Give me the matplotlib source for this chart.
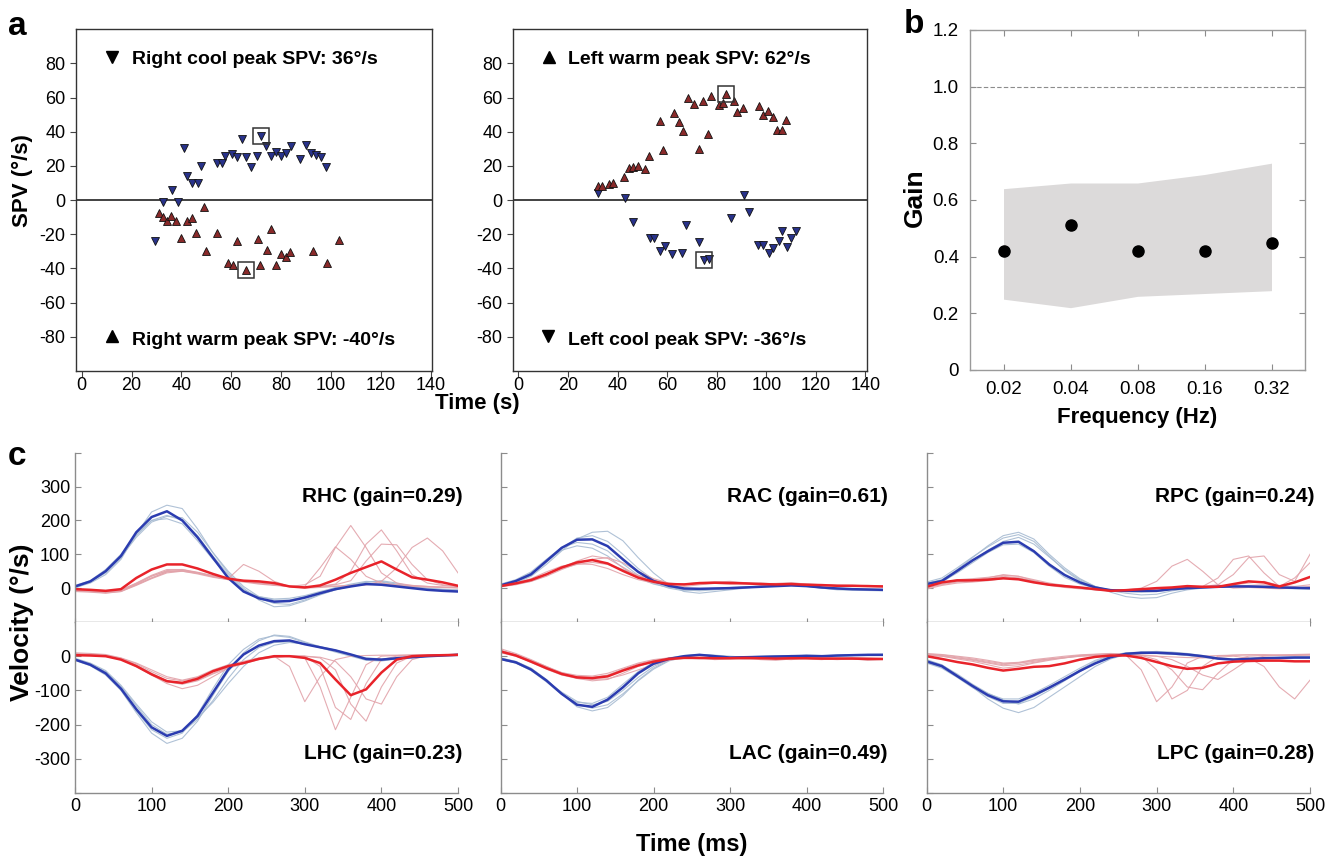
import numpy as np
import matplotlib.pyplot as plt

plt.rcParams['font.family'] = ['Liberation Sans', 'DejaVu Sans']
plt.rcParams['axes.unicode_minus'] = False

W, H = 1336, 860

# ---------------- panel a: slow phase velocity vs time ----------------
# right ear (left plot)
rcool_t = [41.1, 64.4, 72.1, 74.0, 36.4, 32.7, 38.8, 42.1, 44.1, 46.5, 47.9, 54.3, 56.3, 57.5,
           60.1, 62.1, 65.9, 67.9, 70.3, 75.9, 78.0, 79.9, 82.0, 83.9, 87.6, 89.9, 92.0, 94.1,
           96.0, 97.9, 29.3]
rcool_v = [30.8, 35.7, 37.5, 31.8, 5.9, -1.2, -1.2, 14.2, 10.1, 10.1, 20.1, 21.5, 22.0, 26.1,
           27.3, 25.0, 25.0, 19.5, 26.1, 26.1, 28.3, 26.1, 27.7, 31.6, 24.2, 32.2, 27.7, 26.5,
           25.0, 19.5, -24.2]
rwarm_t = [31.1, 32.5, 34.4, 36.0, 37.9, 42.3, 44.3, 49.1, 40.0, 45.7, 50.0, 54.4, 58.7, 60.7,
           62.1, 66.0, 70.9, 71.7, 76.0, 74.3, 78.0, 80.0, 81.9, 83.5, 92.7, 98.4, 103.2]
rwarm_v = [-7.4, -10.1, -12.3, -9.0, -12.1, -12.1, -10.7, -4.1, -22.2, -19.3, -30.0, -19.3,
           -36.5, -37.9, -24.2, -40.6, -22.8, -38.2, -17.0, -28.9, -37.7, -31.6, -33.2, -30.2,
           -29.5, -36.9, -23.6]
# left ear (right plot)
lwarm_t = [32.2, 33.9, 36.4, 38.2, 42.4, 44.5, 46.4, 48.4, 51.1, 52.7, 58.5, 57.2, 62.8, 64.6,
           66.4, 68.6, 70.9, 72.8, 74.6, 76.6, 77.8, 80.9, 82.4, 83.9, 87.0, 88.2, 90.5, 97.2,
           98.8, 100.8, 102.6, 104.5, 106.5, 108.0]
lwarm_v = [8.4, 8.4, 9.4, 9.8, 13.3, 18.7, 19.3, 19.9, 18.5, 26.0, 29.3, 46.2, 50.9, 45.5,
           40.2, 59.5, 56.2, 29.9, 58.1, 38.6, 61.1, 55.6, 56.8, 62.0, 58.0, 51.7, 54.0, 55.2,
           50.0, 51.9, 48.8, 40.8, 40.8, 46.8]
lcool_t = [32.2, 43.0, 46.4, 53.2, 54.6, 57.0, 59.1, 61.9, 65.8, 67.8, 72.7, 74.7, 77.0, 85.9,
           90.9, 93.2, 96.6, 98.6, 101.0, 102.7, 105.0, 106.5, 108.2, 110.1, 111.9]
lcool_v = [4.3, 1.4, -12.9, -22.2, -21.9, -30.0, -27.1, -31.4, -31.0, -14.4, -24.6, -35.1,
           -34.5, -10.5, 2.9, -7.2, -26.1, -26.1, -30.8, -28.1, -24.2, -18.0, -27.3, -22.0, -18.0]
# peak values marked with a box
rcool_peak = (72.1, 37.5)
rwarm_peak = (66.0, -40.6)
lwarm_peak = (83.9, 62.0)
lcool_peak = (74.7, -35.1)

# ---------------- panel b: gain vs frequency ----------------
freq_labels = ['0.02', '0.04', '0.08', '0.16', '0.32']
gain_mean = [0.42, 0.51, 0.42, 0.42, 0.45]
gain_low = [0.25, 0.22, 0.26, 0.27, 0.28]
gain_high = [0.64, 0.66, 0.66, 0.69, 0.73]

# ---------------- panel c: head impulse velocity traces ----------------
t_ms = [0, 20, 40, 60, 80, 100, 120, 140, 160, 180, 200, 220, 240,
        260, 280, 300, 320, 340, 360, 380, 400, 420, 440, 460, 480, 500]

rhc_head = [5, 20, 50, 95, 165, 210, 227, 200, 150, 90, 30, -10, -30, -40, -38, -28, -15, -3, 5, 12, 10, 5, 0, -5, -8, -10]
rhc_eye = [-3, -5, -8, -3, 30, 55, 70, 70, 58, 42, 28, 22, 20, 15, 5, 2, 8, 25, 45, 62, 79, 55, 32, 25, 17, 7]
rhc_head_trials = [
    [2, 15, 40, 85, 160, 225, 245, 235, 175, 105, 45, 0, -35, -55, -52, -38, -20, -5, 8, 18, 20, 12, 5, -2, -5, -8],
    [8, 22, 55, 100, 160, 200, 205, 190, 140, 85, 35, -5, -25, -32, -30, -22, -10, 0, 10, 15, 12, 5, 0, -4, -6, -8],
    [0, 18, 45, 90, 155, 200, 215, 200, 155, 95, 40, -5, -30, -45, -48, -35, -18, -5, 5, 18, 22, 15, 5, 0, -3, -5],
    [3, 20, 48, 92, 150, 195, 212, 208, 165, 105, 50, 5, -25, -35, -35, -25, -12, 2, 12, 20, 18, 10, 2, -3, -5, -6],
]
rhc_eye_trials = [
    [-8, -10, -14, -10, 10, 30, 48, 52, 45, 35, 28, 70, 50, 20, 5, 0, 2, 5, 8, 10, 12, 8, 5, 3, 2, 0],
    [-5, -8, -12, -8, 12, 35, 52, 55, 45, 35, 25, 20, 15, 10, 5, 5, 60, 122, 85, 35, 15, 10, 8, 5, 3, 2],
    [-10, -12, -15, -10, 8, 28, 45, 50, 42, 32, 25, 18, 12, 8, 5, 10, 35, 120, 185, 120, 45, 15, 8, 5, 3, 2],
    [-6, -9, -12, -6, 15, 38, 55, 55, 47, 37, 28, 20, 15, 10, 5, 3, 5, 12, 50, 130, 172, 110, 40, 15, 8, 5],
    [-8, -10, -13, -8, 10, 30, 48, 50, 44, 34, 26, 20, 15, 10, 5, 3, 5, 10, 22, 80, 130, 128, 70, 25, 10, 5],
    [-4, -7, -10, -5, 14, 36, 50, 52, 46, 36, 27, 20, 14, 10, 6, 4, 4, 6, 8, 10, 20, 60, 120, 148, 110, 45],
]

lhc_head = [-10, -25, -50, -95, -155, -208, -233, -218, -175, -107, -39, 5, 31, 44, 46, 35, 26, 17, 5, -8, -10, -6, -3, 0, 2, 4]
lhc_eye = [3, 2, 0, -10, -29, -53, -73, -78, -66, -44, -29, -20, -8, 0, 0, -5, -20, -68, -114, -97, -48, -10, 0, 2, 3, 4]
lhc_head_trials = [
    [-12, -28, -55, -100, -165, -225, -255, -240, -190, -115, -45, 10, 45, 62, 58, 42, 28, 15, 2, -10, -12, -8, -4, -1, 2, 6],
    [-8, -22, -45, -88, -145, -200, -228, -222, -185, -130, -65, -10, 25, 40, 42, 35, 25, 15, 2, -8, -10, -6, -3, 0, 3, 5],
    [-10, -26, -52, -98, -160, -215, -240, -225, -170, -95, -25, 20, 50, 60, 55, 40, 25, 12, 0, -12, -14, -8, -4, 0, 3, 6],
    [-6, -20, -42, -85, -140, -192, -222, -218, -180, -135, -80, -30, 10, 32, 40, 36, 28, 18, 5, -5, -8, -6, -3, 0, 2, 5],
]
lhc_eye_trials = [
    [10, 8, 5, -5, -20, -40, -60, -70, -60, -40, -25, -15, -5, 0, -30, -133, -60, -10, 0, 2, 3, 3, 4, 4, 4, 5],
    [5, 4, 2, -8, -28, -55, -80, -95, -85, -60, -35, -20, -8, -2, 0, -5, -90, -215, -120, -25, 0, 2, 3, 4, 4, 5],
    [8, 6, 3, -6, -22, -45, -65, -72, -62, -45, -30, -18, -6, 0, 2, 0, -30, -150, -185, -80, -10, 0, 2, 3, 4, 5],
    [6, 5, 2, -7, -25, -50, -72, -80, -70, -50, -32, -20, -8, -2, 0, 0, -5, -40, -140, -190, -90, -20, 0, 2, 4, 5],
    [4, 3, 0, -10, -30, -55, -75, -82, -72, -52, -35, -22, -10, -3, 0, 0, -3, -15, -60, -125, -140, -60, -10, 2, 4, 5],
]

rac_head = [8, 21, 41, 80, 119, 143, 144, 124, 85, 48, 21, 7, -1, -2, -1, 0, 2, 4, 6, 8, 6, 2, -1, -3, -4, -5]
rac_eye = [6, 14, 24, 41, 61, 76, 83, 73, 51, 31, 19, 12, 11, 15, 16, 15, 14, 12, 11, 12, 10, 9, 7, 7, 6, 5]
rac_head_trials = [
    [5, 15, 35, 70, 110, 145, 165, 168, 140, 90, 45, 10, -10, -15, -10, -5, 0, 5, 8, 10, 6, 0, -5, -6, -7, -8],
    [10, 22, 45, 80, 112, 125, 118, 95, 60, 30, 12, 2, -3, -3, 0, 2, 4, 5, 7, 9, 5, 0, -3, -5, -5, -6],
    [6, 18, 38, 76, 118, 148, 155, 138, 100, 58, 25, 5, -5, -8, -5, -2, 2, 5, 8, 12, 8, 2, -2, -4, -5, -6],
    [12, 25, 48, 85, 120, 135, 130, 110, 72, 38, 15, 0, -8, -6, -2, 0, 3, 5, 7, 9, 7, 3, 0, -2, -3, -4],
]
rac_eye_trials = [
    [5, 12, 20, 35, 55, 72, 85, 90, 75, 50, 28, 15, 10, 12, 15, 18, 15, 12, 10, 14, 12, 10, 8, 8, 7, 6],
    [8, 15, 28, 48, 65, 72, 70, 58, 40, 25, 15, 10, 12, 16, 18, 16, 12, 10, 12, 15, 12, 10, 9, 8, 7, 6],
    [4, 10, 20, 38, 60, 80, 95, 88, 62, 35, 18, 8, 5, 10, 14, 12, 14, 16, 12, 10, 8, 10, 8, 6, 5, 4],
    [6, 14, 22, 40, 58, 70, 76, 70, 55, 38, 25, 15, 12, 14, 18, 20, 16, 13, 14, 16, 12, 8, 6, 7, 8, 7],
]

lac_head = [-8, -18, -39, -71, -110, -142, -148, -127, -91, -50, -22, -8, 0, 4, 0, -4, -3, -2, -1, 0, 1, 0, 2, 3, 4, 4]
lac_eye = [14, 2, -16, -35, -52, -62, -64, -59, -42, -27, -16, -8, -5, -5, -6, -6, -5, -6, -7, -6, -6, -7, -7, -7, -8, -8]
lac_head_trials = [
    [-5, -15, -35, -68, -110, -148, -160, -150, -115, -70, -35, -12, 0, 3, 0, -3, -2, 0, 1, 2, 0, 1, 3, 4, 3, 2],
    [-10, -20, -42, -75, -112, -135, -138, -120, -82, -45, -18, -5, 2, 5, 2, -2, -4, -3, 0, 2, 2, 0, 1, 2, 4, 5],
    [-6, -16, -36, -70, -108, -140, -152, -142, -110, -72, -38, -14, -2, 4, 1, -2, -1, -3, -2, 0, 3, 2, 0, 2, 5, 6],
    [-9, -20, -40, -72, -105, -132, -142, -132, -100, -62, -30, -10, 0, 5, 3, 0, -3, -1, 1, 2, 1, -1, 2, 3, 3, 4],
]
lac_eye_trials = [
    [22, 8, -10, -30, -50, -65, -72, -68, -50, -30, -15, -5, -2, -5, -10, -8, -5, -10, -12, -8, -5, -8, -10, -8, -12, -10],
    [10, 0, -15, -32, -48, -56, -58, -50, -35, -20, -10, -5, -3, -4, -2, -4, -8, -6, -4, -6, -8, -10, -6, -4, -6, -8],
    [18, 5, -12, -30, -48, -60, -62, -55, -38, -22, -12, -6, -5, -8, -6, -3, -2, -4, -8, -10, -6, -3, -5, -8, -10, -9],
    [12, 2, -18, -38, -55, -65, -68, -66, -55, -40, -25, -12, -6, -4, -5, -7, -9, -7, -5, -4, -6, -9, -8, -6, -5, -7],
]

rpc_head = [12, 21, 51, 82, 109, 134, 137, 109, 70, 39, 17, 2, -6, -8, -8, -8, -3, 0, 2, 4, 5, 5, 4, 2, 1, 0]
rpc_eye = [4, 17, 23, 23, 25, 29, 26, 17, 10, 6, 2, -3, -8, -6, -3, 0, 2, 6, 4, 4, 12, 20, 17, 5, 17, 33]
rpc_head_trials = [
    [15, 25, 55, 90, 125, 155, 165, 145, 100, 60, 28, 5, -12, -25, -30, -28, -15, -5, 0, 3, 5, 4, 2, 0, -2, -3],
    [8, 18, 45, 75, 105, 128, 130, 105, 65, 32, 12, 0, -5, -8, -10, -8, -3, 0, 2, 4, 5, 4, 3, 2, 1, 0],
    [18, 30, 60, 92, 122, 148, 158, 138, 95, 52, 22, 2, -8, -15, -20, -18, -8, -2, 2, 5, 6, 5, 3, 1, 0, -1],
    [10, 22, 48, 80, 112, 138, 150, 130, 92, 55, 25, 5, -6, -10, -12, -10, -4, 0, 3, 6, 6, 4, 2, 1, -1, -2],
]
rpc_eye_trials = [
    [0, 12, 20, 22, 28, 35, 30, 18, 8, 2, -2, -5, -8, -5, 0, 20, 65, 85, 50, 10, 0, 2, 0, -2, 0, 2],
    [5, 15, 25, 28, 32, 38, 35, 22, 12, 5, 0, -5, -8, -6, -3, -2, 0, 2, 5, 30, 85, 95, 45, 5, 0, 5],
    [2, 10, 18, 22, 25, 30, 28, 20, 10, 4, 0, -3, -6, -5, -3, 0, 2, 3, 5, 10, 40, 90, 95, 40, 20, 100],
    [6, 16, 20, 25, 30, 40, 35, 25, 15, 8, 2, -4, -8, -10, -6, -2, 0, 2, 4, 4, 6, 8, 10, 5, 30, 75],
    [-3, 8, 15, 18, 22, 28, 30, 22, 12, 5, 0, -4, -6, -6, -4, -2, 0, 2, 4, 6, 10, 15, 20, 8, 5, 10],
]

lpc_head = [-15, -29, -58, -87, -114, -132, -133, -114, -92, -68, -43, -21, -3, 7, 10, 10, 8, 5, 0, -7, -10, -8, -6, -5, -4, -4]
lpc_eye = [0, -8, -17, -24, -34, -42, -37, -31, -29, -21, -10, -2, 2, 2, -5, -17, -29, -37, -34, -21, -16, -14, -13, -13, -15, -15]
lpc_head_trials = [
    [-10, -25, -55, -90, -125, -152, -165, -150, -120, -90, -60, -30, -8, 5, 12, 14, 12, 8, 2, -5, -8, -6, -4, -3, -2, -2],
    [-18, -32, -60, -88, -110, -125, -125, -108, -85, -60, -35, -12, 2, 10, 12, 10, 6, 2, -3, -8, -10, -8, -6, -5, -5, -5],
    [-12, -26, -52, -82, -108, -128, -140, -125, -100, -72, -45, -20, -2, 8, 10, 12, 10, 6, 1, -6, -9, -7, -5, -4, -3, -3],
    [-20, -35, -62, -92, -118, -138, -138, -118, -95, -70, -40, -15, 0, 6, 8, 8, 6, 3, -2, -6, -10, -9, -7, -5, -4, -3],
]
lpc_eye_trials = [
    [5, 2, -5, -10, -18, -25, -20, -12, -8, -5, 0, 2, 5, 3, -40, -133, -90, -20, 0, 2, 3, 4, 4, 3, 2, 3],
    [8, 5, 0, -5, -12, -20, -18, -10, -5, 0, 4, 6, 8, 6, 0, -40, -125, -100, -30, 0, 3, 4, 4, 3, 3, 4],
    [3, 0, -8, -15, -25, -35, -30, -20, -12, -5, 2, 4, 6, 5, 2, -10, -40, -90, -98, -50, -10, 0, 2, 3, 4, 5],
    [6, 4, -2, -8, -15, -22, -20, -15, -8, -3, 2, 5, 7, 6, 4, 0, -10, -30, -55, -68, -40, -10, 0, 3, 5, 6],
    [2, 0, -5, -12, -20, -28, -25, -18, -10, -4, 0, 3, 5, 4, 2, 0, -2, -4, -5, -3, 0, -5, -30, -90, -125, -70],
]

canal_labels = [('RHC (gain=0.29)', 'LHC (gain=0.23)'),
                ('RAC (gain=0.61)', 'LAC (gain=0.49)'),
                ('RPC (gain=0.24)', 'LPC (gain=0.28)')]


def rect(x0, y0, x1, y1):
    # pixel box (top-left origin) -> figure fraction
    return [x0 / W, 1 - y1 / H, (x1 - x0) / W, (y1 - y0) / H]


fig = plt.figure(figsize=(W / 100, H / 100), dpi=100)

# ---- panel a ----
cool_kw = dict(ls='none', marker='v', ms=5.5, mfc='#28328a', mec='#111111', mew=0.6)
warm_kw = dict(ls='none', marker='^', ms=5.5, mfc='#8a2a2a', mec='#111111', mew=0.6)
box_kw = dict(ls='none', marker='s', ms=12, mfc='none', mec='#333333', mew=1.1)

a_specs = [
    (rect(76, 29.3, 432, 371), rcool_t, rcool_v, rwarm_t, rwarm_v, rcool_peak, rwarm_peak,
     ('v', 'Right cool peak SPV: 36°/s'), ('^', 'Right warm peak SPV: -40°/s')),
    (rect(512.7, 29.3, 866.7, 371), lcool_t, lcool_v, lwarm_t, lwarm_v, lcool_peak, lwarm_peak,
     ('^', 'Left warm peak SPV: 62°/s'), ('v', 'Left cool peak SPV: -36°/s')),
]
for r, ct, cv, wt, wv, cpk, wpk, top, bot in a_specs:
    ax = fig.add_axes(r)
    ax.axhline(0, color='#333333', lw=1.3, zorder=1)
    ax.plot(ct, cv, **cool_kw)
    ax.plot(wt, wv, **warm_kw)
    ax.plot([cpk[0], wpk[0]], [cpk[1], wpk[1]], **box_kw)
    ax.plot(12.3, 84, ls='none', marker=top[0], ms=8, color='black')
    ax.text(20, 79.5, top[1], fontsize=14, fontweight='bold', va='baseline')
    ax.plot(12.0, -79.5, ls='none', marker=bot[0], ms=8, color='black')
    ax.text(20, -84.5, bot[1], fontsize=14, fontweight='bold', va='baseline')
    ax.set_xlim(-2.3, 140.5)
    ax.set_ylim(-100, 100)
    ax.set_xticks(range(0, 141, 20))
    ax.set_yticks(range(-80, 81, 20))
    ax.tick_params(direction='out', length=4, labelsize=13, color='#444444')
    ax.tick_params(axis='x', pad=0.5)
    for s in ax.spines.values():
        s.set_color('#333333')
        s.set_linewidth(1.0)

fig.text(22 / W, 1 - 181 / H, 'SPV (°/s)', rotation=90, ha='center', va='center',
         fontsize=16, fontweight='bold')
fig.text(477 / W, 1 - 403 / H, 'Time (s)', ha='center', va='center',
         fontsize=16, fontweight='bold')

# ---- panel b ----
axb = fig.add_axes(rect(970, 30, 1305, 370))
xpos = np.arange(len(freq_labels))
axb.fill_between(xpos, gain_low, gain_high, color='#dcdada', lw=0)
axb.axhline(1.0, color='#8c8c8c', lw=0.8, ls=(0, (4, 2)))
axb.plot(xpos, gain_mean, ls='none', marker='o', ms=8, color='black')
axb.set_xlim(-0.5, 4.5)
axb.set_ylim(0, 1.2)
axb.set_xticks(xpos)
axb.set_xticklabels(freq_labels)
axb.set_yticks([0, 0.2, 0.4, 0.6, 0.8, 1.0, 1.2])
axb.set_yticklabels(['0', '0.2', '0.4', '0.6', '0.8', '1.0', '1.2'])
axb.tick_params(direction='in', length=4, labelsize=13.5, color='#8c8c8c',
                top=True, right=True, pad=8)
for s in axb.spines.values():
    s.set_color('#9a9a9a')
    s.set_linewidth(1.0)
fig.text(915 / W, 1 - 198 / H, 'Gain', rotation=90, ha='center', va='center',
         fontsize=19, fontweight='bold')
fig.text(1137 / W, 1 - 418 / H, 'Frequency (Hz)', ha='center', va='center',
         fontsize=16, fontweight='bold')

# ---- panel c ----
head_c, eye_c = '#2b3cb0', '#e8232a'
head_light, eye_light = '#a7bbd2', '#e2a3aa'
cols = [(75, 458), (500.5, 883), (926.5, 1310)]
canal_data = [
    ((rhc_head, rhc_eye, rhc_head_trials, rhc_eye_trials),
     (lhc_head, lhc_eye, lhc_head_trials, lhc_eye_trials)),
    ((rac_head, rac_eye, rac_head_trials, rac_eye_trials),
     (lac_head, lac_eye, lac_head_trials, lac_eye_trials)),
    ((rpc_head, rpc_eye, rpc_head_trials, rpc_eye_trials),
     (lpc_head, lpc_eye, lpc_head_trials, lpc_eye_trials)),
]
for ci, (x0, x1) in enumerate(cols):
    top_ax = fig.add_axes(rect(x0, 452.7, x1, 622))
    bot_ax = fig.add_axes(rect(x0, 622, x1, 793))
    for ax, (head, eye, head_tr, eye_tr), lab, ylim, yb, is_top in [
            (top_ax, canal_data[ci][0], canal_labels[ci][0], (-100, 400), 0.71, True),
            (bot_ax, canal_data[ci][1], canal_labels[ci][1], (-400, 100), 0.20, False)]:
        for tr in head_tr:
            ax.plot(t_ms, tr, color=head_light, lw=0.8, alpha=0.9)
        for tr in eye_tr:
            ax.plot(t_ms, tr, color=eye_light, lw=0.8, alpha=0.9)
        ax.plot(t_ms, head, color=head_c, lw=1.8)
        ax.plot(t_ms, eye, color=eye_c, lw=1.8)
        ax.text(1.012, yb, lab, transform=ax.transAxes, ha='right', va='baseline',
                fontsize=15, fontweight='bold')
        ax.set_xlim(0, 500)
        ax.set_ylim(*ylim)
        ax.set_xticks([0, 100, 200, 300, 400, 500])
        ax.spines['right'].set_visible(False)
        ax.spines['top'].set_visible(False)
        for s in ax.spines.values():
            s.set_color('#8c8c8c')
            s.set_linewidth(1.0)
        if is_top:
            ax.set_yticks([0, 100, 200, 300, 400])
            ax.set_yticklabels(['0', '100', '200', '300', ''] if ci == 0 else [''] * 5)
            ax.tick_params(axis='x', direction='inout', length=6, labelbottom=False,
                           color='#8c8c8c')
        else:
            ax.set_yticks([-400, -300, -200, -100, 0])
            ax.set_yticklabels(['', '-300', '-200', '-100', '0'] if ci == 0 else [''] * 5)
            ax.tick_params(axis='x', direction='in', length=4, color='#8c8c8c')
        ax.tick_params(axis='y', direction='in', length=4, color='#8c8c8c')
        ax.tick_params(labelsize=13)

fig.text(22 / W, 1 - 622 / H, 'Velocity (°/s)', rotation=90, ha='center', va='center',
         fontsize=19, fontweight='bold')
fig.text(692 / W, 1 - 845 / H, 'Time (ms)', ha='center', va='center',
         fontsize=17, fontweight='bold')

# panel letters
fig.text(8 / W, 1 - 35 / H, 'a', fontsize=24, fontweight='bold', va='baseline')
fig.text(904 / W, 1 - 33 / H, 'b', fontsize=24, fontweight='bold', va='baseline')
fig.text(8 / W, 1 - 465 / H, 'c', fontsize=24, fontweight='bold', va='baseline')

fig.savefig('out.png', dpi=100)
